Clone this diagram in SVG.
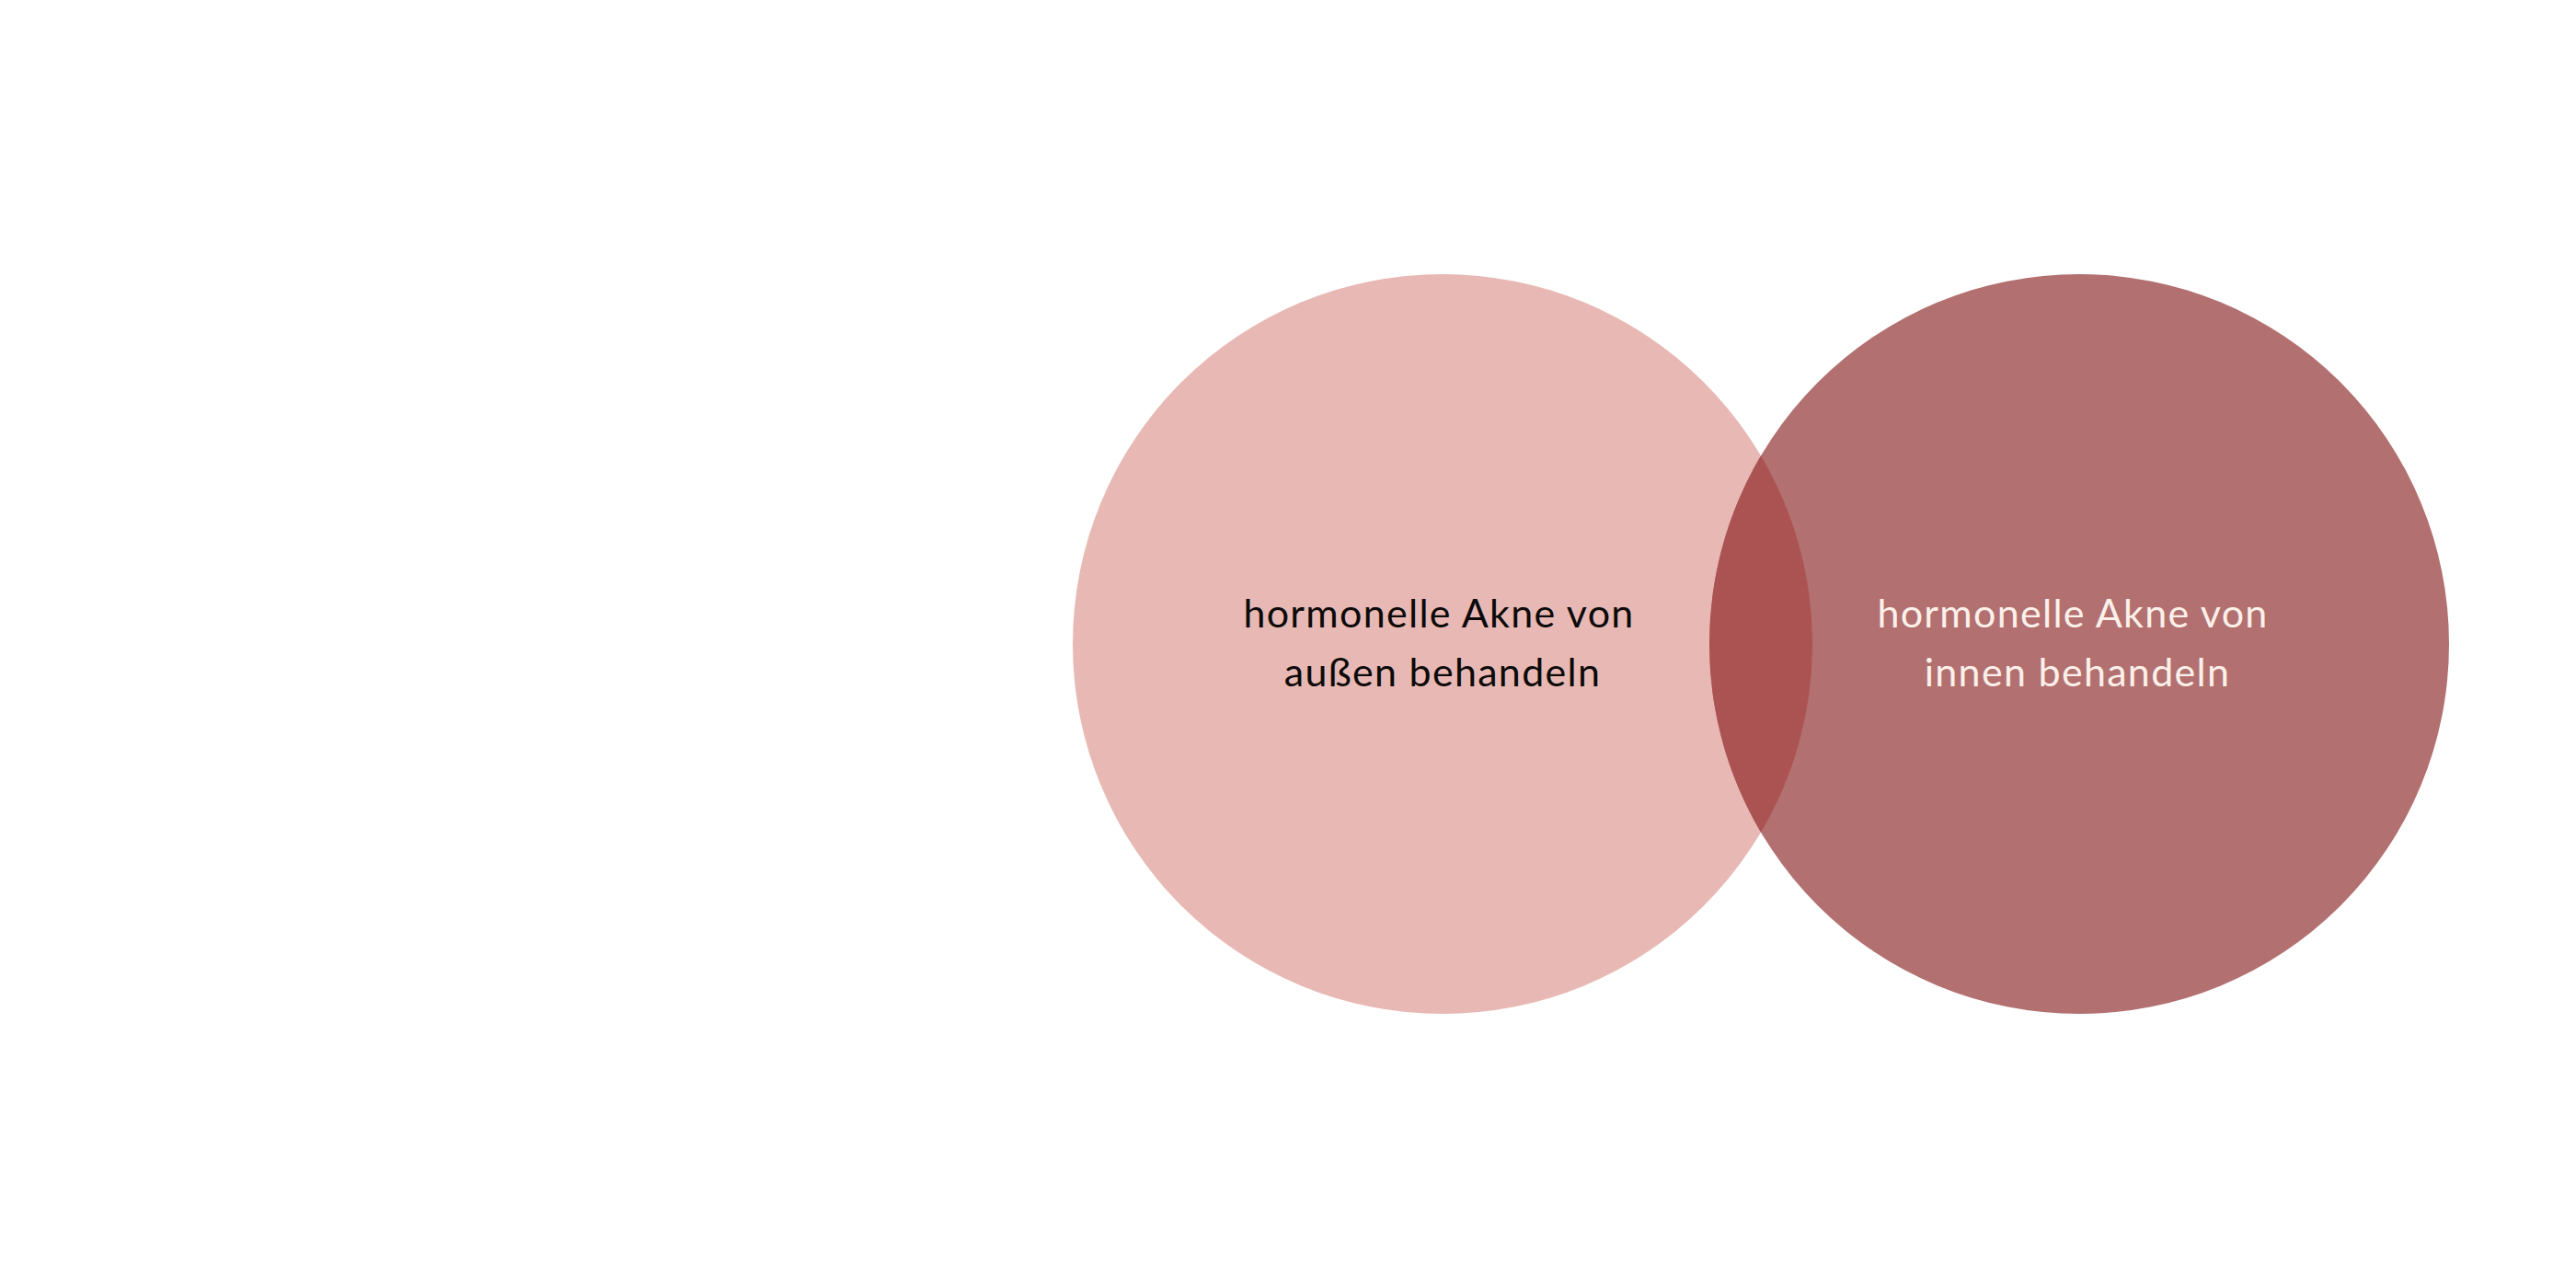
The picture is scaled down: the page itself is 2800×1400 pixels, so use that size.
<svg xmlns="http://www.w3.org/2000/svg" width="2800" height="1400" viewBox="0 0 2800 1400">
<style>
.lbl{font-family:Lato,"Noto Sans","Liberation Sans",sans-serif;font-size:43px;font-weight:400;letter-spacing:1.3px;text-anchor:middle}
.dark{fill:#0d0a0a}
.light{fill:#fcf0ea}
</style>
<rect width="2800" height="1400" fill="#ffffff"/>
<g id="outer">
<circle cx="1568" cy="700" r="402" fill="#e8b9b4"/>
</g>
<g id="inner">
<circle cx="2260" cy="700" r="402" fill="#b37070"/>
</g>
<g id="overlap">
<path d="M1914,495.3 A402,402 0 0 1 1914,904.7 A402,402 0 0 1 1914,495.3 Z" fill="#ab5352"/>
</g>
<g id="connectors"></g>
<g id="label-outer">
<text class="lbl dark" x="1564" y="682">hormonelle Akne von</text>
<text class="lbl dark" x="1568" y="746">außen behandeln</text>
</g>
<g id="label-inner">
<text class="lbl light" x="2253" y="682">hormonelle Akne von</text>
<text class="lbl light" x="2258" y="746">innen behandeln</text>
</g>
</svg>
